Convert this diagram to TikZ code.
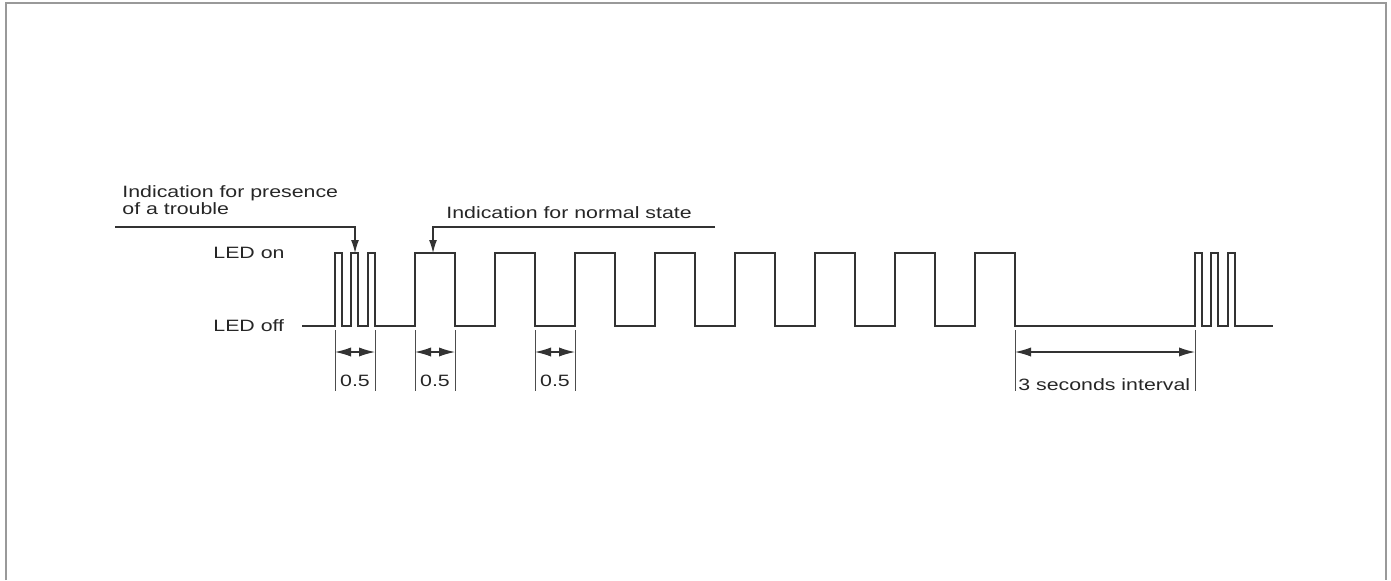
\documentclass[tikz,border=0pt]{standalone}
\usepackage{fontspec}
\setmainfont{Liberation Sans}[FakeStretch=1.3]
\usepackage{tikz}
\usetikzlibrary{arrows.meta, positioning}

\begin{document}
\begin{tikzpicture}[x=0.5pt, y=-0.5pt,
    wave/.style={line width=1pt, draw=black!80, line join=miter},
    extline/.style={line width=0.5pt, draw=black!70},
    dimline/.style={line width=0.6pt, draw=black!80, {Latex[length=8pt,width=4.6pt]}-{Latex[length=8pt,width=4.6pt]}},
    leader/.style={line width=0.6pt, draw=black!80, -{Latex[length=6.5pt,width=4pt]}},
    lbl/.style={font=\fontsize{8.2}{7.6}\selectfont, text=black!85, inner sep=0pt},
    every node/.style={lbl}]
  \useasboundingbox (0,0) rectangle (1391,580);

  % frame, open at the bottom
  \draw[line width=1pt, gray!80] (6,580) -- (6,3) -- (1386,3) -- (1386,580);

  % level labels
  \node[anchor=west] (ledon) at (213,253) {LED on};
  \node[anchor=west] (ledoff) at (213,326) {LED off};

  % the signal
  \draw[wave] (302,326)
    foreach \s in {335,351,368} { -- (\s,326) -- (\s,253) -- ({\s+7},253) -- ({\s+7},326) }
    foreach \s in {415,495,...,975} { -- (\s,326) -- (\s,253) -- ({\s+40},253) -- ({\s+40},326) }
    foreach \s in {1195,1211,1228} { -- (\s,326) -- (\s,253) -- ({\s+7},253) -- ({\s+7},326) }
    -- (1273,326);

  % extension lines
  \foreach \x in {335,375,415,455,535,575,1015,1195}
    \draw[extline] (\x,330) -- (\x,391);

  % dimensions
  \coordinate (d1a) at (335,352); \coordinate (d1b) at (375,352);
  \coordinate (d2a) at (415,352); \coordinate (d2b) at (455,352);
  \coordinate (d3a) at (535,352); \coordinate (d3b) at (575,352);
  \coordinate (d4a) at (1015,352); \coordinate (d4b) at (1195,352);
  \draw[dimline] (d1a) -- (d1b);
  \draw[dimline] (d2a) -- (d2b);
  \draw[dimline] (d3a) -- (d3b);
  \draw[dimline] (d4a) -- (d4b);
  \node (t1) at (355,381) {0.5};
  \node (t2) at (435,381) {0.5};
  \node (t3) at (555,381) {0.5};
  \node[anchor=west] (t4) at (1018,385) {3 seconds interval};

  % leaders
  \node[anchor=west, align=left] (trouble) at (122,200) {Indication for presence\\of a trouble};
  \node[anchor=west] (normal) at (446,213) {Indication for normal state};
  \coordinate (trbstart) at (115,227);
  \coordinate (trbtip) at (355,253);
  \coordinate (nrmstart) at (715,227);
  \coordinate (nrmtip) at (433,253);
  \draw[leader] (trbstart) -| (trbtip);
  \draw[leader] (nrmstart) -| (nrmtip);
\end{tikzpicture}
\end{document}
